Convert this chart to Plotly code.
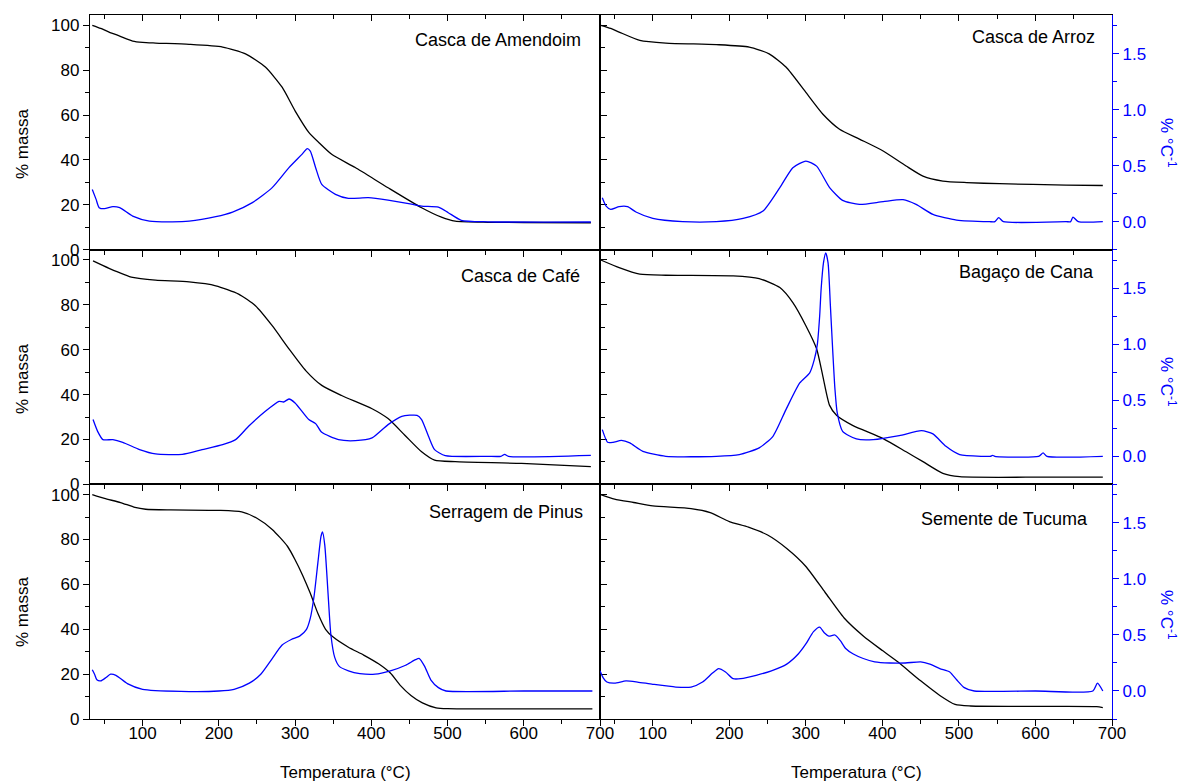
import plotly.graph_objects as go

# ---------------- data: TG (% massa) and DTG (% °C^-1) vs temperature (°C) ----------------
amendoim_tg_t = [34, 45, 56, 70, 87, 100, 117, 161, 205, 235, 261, 283, 300, 318, 331, 348, 379, 422, 466, 492, 510, 553, 600, 688]
amendoim_tg = [100, 98.6, 97.0, 95.2, 93.0, 92.4, 92.1, 91.5, 90.3, 87.3, 81.4, 72.4, 61.9, 52.3, 47.8, 42.5, 36.6, 27.6, 18.7, 14.5, 12.7, 12.2, 12.1, 12.0]
amendoim_dtg_t = [34, 39, 43, 50, 61, 70, 87, 109, 139, 161, 196, 218, 244, 270, 292, 309, 316, 320, 327, 335, 353, 370, 396, 422, 449, 466, 488, 501, 518, 553, 688]
amendoim_dtg = [0.288, 0.199, 0.125, 0.116, 0.134, 0.125, 0.05, 0.005, -0.001, 0.005, 0.045, 0.086, 0.17, 0.304, 0.482, 0.601, 0.652, 0.63, 0.482, 0.333, 0.244, 0.208, 0.214, 0.193, 0.161, 0.139, 0.130, 0.080, 0.012, -0.001, -0.003]

arroz_tg_t = [32, 45, 56, 83, 117, 183, 226, 252, 274, 300, 322, 344, 370, 401, 431, 453, 479, 510, 553, 640, 688]
arroz_tg = [100, 98.6, 97.0, 93.3, 92.1, 91.4, 90.3, 87.3, 81.4, 70.1, 60.5, 53.7, 49.3, 44.0, 37.3, 32.8, 30.6, 29.9, 29.4, 28.8, 28.6]
arroz_dtg_t = [34, 39, 45, 56, 67, 78, 100, 139, 183, 218, 244, 266, 283, 300, 314, 331, 348, 370, 401, 427, 444, 466, 497, 540, 547, 552, 558, 640, 646, 649, 656, 688]
arroz_dtg = [0.214, 0.139, 0.11, 0.134, 0.134, 0.086, 0.029, 0.0, 0.0, 0.029, 0.095, 0.304, 0.482, 0.541, 0.496, 0.304, 0.19, 0.154, 0.179, 0.196, 0.154, 0.065, 0.014, 0.0, 0.0, 0.036, 0.0, 0.0, 0.0, 0.041, 0.0, 0.0]

cafe_tg_t = [35, 56, 87, 117, 161, 196, 226, 248, 270, 292, 314, 335, 361, 401, 422, 444, 466, 483, 510, 597, 688]
cafe_tg = [99.6, 96.3, 92.2, 91.0, 90.2, 88.5, 84.8, 79.6, 70.7, 60.4, 50.7, 44.1, 39.6, 33.7, 29.3, 21.9, 14.5, 10.8, 10.1, 9.3, 7.9]
cafe_dtg_t = [35, 41, 48, 61, 74, 96, 117, 152, 178, 205, 222, 239, 261, 279, 285, 292, 300, 318, 327, 335, 357, 379, 401, 422, 440, 460, 466, 475, 483, 497, 553, 570, 575, 580, 688]
cafe_dtg = [0.328, 0.223, 0.149, 0.149, 0.125, 0.06, 0.021, 0.018, 0.06, 0.104, 0.149, 0.268, 0.402, 0.491, 0.485, 0.512, 0.477, 0.328, 0.292, 0.214, 0.149, 0.14, 0.164, 0.283, 0.357, 0.366, 0.328, 0.179, 0.06, 0.006, 0.0, 0.0, 0.018, 0.0, 0.009]

bagaco_tg_t = [32, 56, 83, 117, 205, 239, 266, 283, 300, 314, 322, 331, 340, 361, 401, 431, 453, 479, 501, 610, 688]
bagaco_tg = [100, 96.6, 93.7, 93.2, 92.9, 91.7, 87.7, 81.0, 70.7, 60.4, 48.5, 35.2, 30.8, 26.3, 20.4, 14.5, 10.1, 4.9, 3.4, 3.2, 3.2]
bagaco_dtg_t = [34, 41, 48, 59, 70, 87, 117, 183, 213, 239, 257, 274, 292, 305, 311, 315, 318, 320, 323, 326, 329, 332, 335, 338, 341, 348, 366, 388, 422, 451, 466, 483, 501, 531, 541, 544, 547, 604, 610, 615, 688]
bagaco_dtg = [0.238, 0.125, 0.125, 0.143, 0.12, 0.045, 0.0, 0.0, 0.015, 0.075, 0.179, 0.417, 0.655, 0.745, 0.863, 1.0, 1.25, 1.5, 1.727, 1.816, 1.727, 1.35, 0.953, 0.6, 0.387, 0.223, 0.155, 0.149, 0.185, 0.229, 0.2, 0.089, 0.015, 0.0, 0.0, 0.009, 0.0, 0.0, 0.03, 0.0, 0.0]

pinus_tg_t = [34, 50, 71, 90, 104, 137, 200, 230, 250, 270, 290, 300, 310, 320, 330, 340, 350, 370, 390, 410, 425, 438, 452, 467, 485, 500, 600, 690]
pinus_tg = [100, 98.3, 96.5, 94.3, 93.5, 93.2, 93.0, 92.3, 89.5, 84.5, 77.0, 71.0, 64.0, 56.0, 47.0, 40.0, 36.5, 32.0, 28.5, 24.5, 20.5, 15.0, 10.5, 7.2, 5.0, 4.6, 4.5, 4.5]
pinus_dtg_t = [34, 37, 40, 45, 52, 58, 65, 80, 100, 150, 200, 220, 240, 255, 270, 283, 295, 306, 315, 320, 325, 330, 334, 336, 339, 343, 347, 352, 358, 370, 385, 405, 425, 445, 458, 463, 470, 478, 488, 498, 600, 690]
pinus_dtg = [0.19, 0.15, 0.10, 0.09, 0.12, 0.15, 0.14, 0.066, 0.015, -0.003, 0.0, 0.015, 0.07, 0.15, 0.29, 0.41, 0.46, 0.49, 0.55, 0.65, 0.85, 1.15, 1.38, 1.42, 1.3, 0.9, 0.5, 0.3, 0.22, 0.18, 0.155, 0.15, 0.18, 0.23, 0.28, 0.29, 0.22, 0.1, 0.03, 0.0, 0.0, 0.0]

tucuma_tg_t = [32, 50, 75, 100, 150, 175, 200, 225, 250, 275, 300, 325, 350, 375, 400, 420, 450, 475, 495, 515, 600, 680, 688]
tucuma_tg = [100, 98.0, 96.5, 95.0, 93.8, 92.0, 88.0, 85.5, 82.0, 76.0, 68.0, 56.5, 45.0, 37.0, 30.5, 25.5, 17.0, 10.5, 6.5, 5.8, 5.6, 5.5, 5.1]
tucuma_dtg_t = [31, 35, 40, 50, 65, 80, 100, 130, 150, 165, 178, 186, 195, 205, 215, 235, 255, 275, 290, 300, 310, 318, 324, 330, 338, 345, 352, 362, 375, 390, 410, 430, 450, 462, 475, 488, 497, 507, 520, 600, 675, 681, 688]
tucuma_dtg = [0.18, 0.12, 0.08, 0.07, 0.09, 0.08, 0.06, 0.035, 0.035, 0.08, 0.16, 0.2, 0.17, 0.11, 0.11, 0.14, 0.18, 0.24, 0.33, 0.42, 0.53, 0.57, 0.52, 0.49, 0.5, 0.45, 0.38, 0.33, 0.29, 0.26, 0.25, 0.25, 0.26, 0.24, 0.2, 0.17, 0.1, 0.03, 0.0, 0.0, 0.0, 0.07, 0.0]

names = ["Casca de Amendoim", "Casca de Arroz", "Casca de Café",
         "Bagaço de Cana", "Serragem de Pinus", "Semente de Tucuma"]
tg_t = [amendoim_tg_t, arroz_tg_t, cafe_tg_t, bagaco_tg_t, pinus_tg_t, tucuma_tg_t]
tg = [amendoim_tg, arroz_tg, cafe_tg, bagaco_tg, pinus_tg, tucuma_tg]
dtg_t = [amendoim_dtg_t, arroz_dtg_t, cafe_dtg_t, bagaco_dtg_t, pinus_dtg_t, tucuma_dtg_t]
dtg = [amendoim_dtg, arroz_dtg, cafe_dtg, bagaco_dtg, pinus_dtg, tucuma_dtg]

x_ticks = [100, 200, 300, 400, 500, 600, 700]
mass_ticks = [0, 20, 40, 60, 80, 100]
rate_ticks = [0.0, 0.5, 1.0, 1.5]

# ---------------- geometry ----------------
W, H = 1178, 781
ML, MR, MT, MB = 90, 66, 15, 62
PW, PH = W - ML - MR, H - MT - MB
X_RANGE = [31, 700]
MASS_RANGE = [0, 104.6]
RATE_RANGE = [-0.25, 1.845]
FONT = "Liberation Sans, Arial, sans-serif"
BLUE = "#0000FF"
LW = 1.3


def px_x(px):
    return (px - ML) / PW


def px_y(py):
    return (H - MB - py) / PH


col_dom = [[0, 510 / PW], [510 / PW, 1]]
row_dom = [[1 - (r + 1) / 3, 1 - r / 3] for r in range(3)]

fig = go.Figure()
layout = dict(
    width=W, height=H, margin=dict(l=ML, r=MR, t=MT, b=MB),
    paper_bgcolor="white", plot_bgcolor="rgba(0,0,0,0)",
    showlegend=False, font=dict(family=FONT, size=17, color="black"),
)

for k in range(6):
    r, c = divmod(k, 2)
    i = k + 1
    j = k + 7
    fig.add_trace(go.Scatter(x=tg_t[k], y=tg[k], mode="lines",
                             line=dict(color="black", width=LW, shape="spline", smoothing=0.6),
                             xaxis=f"x{i}", yaxis=f"y{i}", hoverinfo="skip"))
    fig.add_trace(go.Scatter(x=dtg_t[k], y=dtg[k], mode="lines",
                             line=dict(color=BLUE, width=LW, shape="spline", smoothing=0.6),
                             xaxis=f"x{i}", yaxis=f"y{j}", hoverinfo="skip"))

    layout[f"xaxis{i}"] = dict(
        domain=col_dom[c], anchor=f"y{i}", range=X_RANGE,
        tickmode="array", tickvals=x_ticks, ticktext=[str(v) for v in x_ticks],
        ticks="outside", ticklen=6, tickwidth=LW, tickcolor="black",
        minor=dict(tickvals=[50 + 100 * n for n in range(7)], ticks="outside",
                   ticklen=4, tickwidth=LW, tickcolor="black"),
        showticklabels=(r == 2), tickfont=dict(size=17, color="black"),
        ticklabelstandoff=-8,
        showline=True, linecolor="black", linewidth=LW, mirror=True,
        showgrid=False, zeroline=False, fixedrange=True,
    )
    left = dict(
        domain=row_dom[r], anchor=f"x{i}", range=MASS_RANGE,
        showline=True, linecolor="black", linewidth=LW,
        showgrid=False, zeroline=False, fixedrange=True,
    )
    if c == 0:
        left.update(
            tickmode="array", tickvals=mass_ticks, ticktext=[str(v) for v in mass_ticks],
            ticks="outside", ticklen=6, tickwidth=LW, tickcolor="black",
            minor=dict(tickvals=[10, 30, 50, 70, 90], ticks="outside",
                       ticklen=4, tickwidth=LW, tickcolor="black"),
            showticklabels=True, tickfont=dict(size=17, color="black"),
            mirror="ticks",
        )
    else:
        left.update(ticks="", showticklabels=False, mirror=False)
    layout[f"yaxis{i}"] = left

    right = dict(
        overlaying=f"y{i}", side="right", anchor=f"x{i}", range=RATE_RANGE,
        showgrid=False, zeroline=False, fixedrange=True,
    )
    if c == 1:
        right.update(
            tickmode="array", tickvals=rate_ticks, ticktext=[f"{v:.1f}" for v in rate_ticks],
            ticks="outside", ticklen=6, tickwidth=LW, tickcolor=BLUE,
            minor=dict(tickvals=[-0.25, 0.25, 0.75, 1.25, 1.75], ticks="outside",
                       ticklen=4, tickwidth=LW, tickcolor=BLUE),
            showticklabels=True, tickfont=dict(size=17, color=BLUE),
            showline=True, linecolor=BLUE, linewidth=LW,
        )
    else:
        right.update(visible=False)
    layout[f"yaxis{j}"] = right

# inward ticks along the upper edge of the top row
for c in range(2):
    n = 13 + c
    fig.add_trace(go.Scatter(x=[], y=[], xaxis=f"x{n}", yaxis=f"y{c + 1}", hoverinfo="skip"))
    layout[f"xaxis{n}"] = dict(
        overlaying=f"x{c + 1}", side="top", anchor=f"y{c + 1}", range=X_RANGE,
        tickmode="array", tickvals=x_ticks, ticks="inside", ticklen=6,
        tickwidth=LW, tickcolor="black", showticklabels=False,
        minor=dict(tickvals=[50 + 100 * m for m in range(7)], ticks="inside",
                   ticklen=4, tickwidth=LW, tickcolor="black"),
        showline=False, showgrid=False, zeroline=False, fixedrange=True,
    )

annotations = []
title_pos = [(583, 40), (1097, 37), (582, 276), (1096, 272), (585, 512), (1090, 519)]
for k, name in enumerate(names):
    xp, yp = title_pos[k]
    annotations.append(dict(text=name, x=px_x(xp), y=px_y(yp), xref="paper", yref="paper",
                            xanchor="right", yanchor="middle", showarrow=False,
                            font=dict(size=18, color="black", family=FONT)))

for yp in [144, 379, 612]:
    annotations.append(dict(text="% massa", x=px_x(22), y=px_y(yp), xref="paper", yref="paper",
                            xanchor="center", yanchor="middle", textangle=-90, showarrow=False,
                            font=dict(size=17, color="black", family=FONT)))
for yp in [143, 382, 615]:
    annotations.append(dict(text="% °C<sup>-1</sup>", x=px_x(1168), y=px_y(yp), xref="paper",
                            yref="paper", xanchor="center", yanchor="middle", textangle=90,
                            showarrow=False, font=dict(size=17, color=BLUE, family=FONT)))
for xp in [345, 856]:
    annotations.append(dict(text="Temperatura (°C)", x=px_x(xp), y=px_y(772), xref="paper",
                            yref="paper", xanchor="center", yanchor="middle", showarrow=False,
                            font=dict(size=17, color="black", family=FONT)))

layout["annotations"] = annotations
fig.update_layout(**layout)
fig.write_html("out.html")
